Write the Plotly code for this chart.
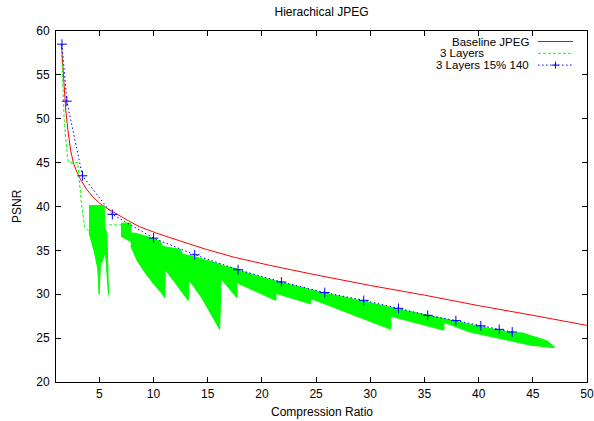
import plotly.graph_objects as go

# ---------------- data ----------------
baseline_x = [1.5, 1.6, 1.75, 1.9, 2.1, 2.35, 2.6, 2.9, 3.3, 3.8, 4.4, 5.0, 5.7, 6.5, 7.5, 8.7,
              10.2, 12.4, 14.9, 17.5, 20.7, 25.0, 30.0, 35.0, 40.0, 45.0, 50.0]
baseline_y = [58.5, 56.3, 53.5, 51.0, 48.7, 46.4, 45.0, 44.0, 43.0, 42.0, 41.1, 40.4, 39.8, 39.2, 38.5, 37.7,
              37.0, 36.1, 35.1, 34.2, 33.3, 32.2, 31.0, 29.9, 28.7, 27.6, 26.45]

layers3_line_x = [1.5, 1.6, 1.75, 1.95, 2.1, 2.2, 3.0, 3.35, 3.65, 4.05, None, 5.9, 7.0]
layers3_line_y = [58.5, 55.0, 50.0, 47.0, 45.3, 45.0, 45.0, 40.3, 37.6, 37.2, None, 37.9, 37.9]

# dense "3 Layers" region: top and bottom edges of each tooth of the band
layers3_teeth = [
    # (top_x, top_y, bottom_x, bottom_y)
    ([4.05, 5.45, 5.5, 5.7], [40.1, 40.1, 37.6, 37.0],
     [4.05, 4.2, 4.5, 4.85, 4.98, 5.1, 5.3, 5.55, 5.85], [37.0, 36.5, 35.0, 33.0, 30.0, 33.5, 33.8, 35.0, 29.9]),
    ([7.0, 7.9], [38.1, 38.1], [7.0, 7.9], [36.6, 36.0]),
    ([7.9, 8.5, 9.3, 10.0, 10.65], [37.0, 36.9, 36.6, 36.3, 36.0],
     [7.9, 8.5, 9.2, 10.0, 10.7, 11.05, 11.1], [35.5, 33.8, 32.5, 31.2, 30.2, 29.6, 34.5]),
    ([10.65, 12.5], [35.5, 35.1], [10.65, 12.0, 13.2, 13.3], [33.5, 31.3, 29.3, 32.5]),
    ([12.5, 14.0, 16.2], [34.6, 34.2, 33.4], [12.5, 14.5, 16.1, 16.2], [33.0, 29.5, 26.0, 30.0]),
    ([16.2, 17.7], [33.3, 32.9], [16.2, 17.7], [31.8, 29.6]),
    ([17.7, 19.5, 21.3], [32.8, 32.1, 31.5], [17.7, 19.5, 21.3], [31.3, 30.3, 29.3]),
    ([21.3, 23.5, 25.8, 27.5, 29.4, 31.9], [31.5, 30.8, 30.1, 29.7, 29.2, 28.5],
     [21.3, 24.5, 24.55, 31.9], [30.1, 28.9, 29.5, 26.0]),
    ([31.9, 33.5, 35.3, 36.8], [28.5, 28.1, 27.6, 27.2], [31.9, 36.8], [27.5, 25.9]),
    ([36.8, 37.9, 40.2, 41.9, 43.1, 44.0, 45.0, 46.3, 47.0], [27.2, 26.9, 26.3, 25.9, 25.6, 25.6, 25.2, 24.7, 24.0],
     [36.8, 39.2, 42.3, 44.8, 47.0], [26.8, 25.7, 24.9, 24.2, 23.9]),
]

layers15_x = [1.55, 2.0, 3.44, 6.2, 10.0, 13.8, 17.8, 21.8, 25.8, 29.4, 32.6, 35.3, 37.9, 40.2, 41.9, 43.1]
layers15_y = [58.5, 52.0, 43.5, 39.1, 36.4, 34.5, 32.8, 31.4, 30.2, 29.3, 28.4, 27.6, 27.0, 26.4, 26.0, 25.7]

x_ticks = [5, 10, 15, 20, 25, 30, 35, 40, 45, 50]
y_ticks = [20, 25, 30, 35, 40, 45, 50, 55, 60]

legend_names = ["Baseline JPEG", "3 Layers", "3 Layers 15% 140"]
chart_title = "Hierachical JPEG"
x_title = "Compression Ratio"
y_title = "PSNR"

# ---------------- figure ----------------
W, H = 594, 421
L, R, T, B = 56, 7, 31, 39
pw, ph = W - L - R, H - T - B
RED, GREEN, BLUE = "#ff0000", "#00ff00", "#0000ff"
FONT = "Liberation Sans, Arial, Helvetica, sans-serif"


def pxx(v):
    return (v - L) / pw


def pxy(v):
    return (H - B - v) / ph


fig = go.Figure()

fig.add_trace(go.Scatter(x=baseline_x, y=baseline_y, mode="lines",
                         line=dict(color=RED, width=1), name=legend_names[0], showlegend=False))

for tx, ty, bx, by in layers3_teeth:
    fig.add_trace(go.Scatter(x=tx + bx[::-1], y=ty + by[::-1], mode="lines", fill="toself",
                             fillcolor=GREEN, line=dict(color=GREEN, width=1),
                             showlegend=False, hoverinfo="skip"))

fig.add_trace(go.Scatter(x=layers3_line_x, y=layers3_line_y, mode="lines", connectgaps=False,
                         line=dict(color=GREEN, width=1, dash="3px,2px"), name=legend_names[1], showlegend=False))

fig.add_trace(go.Scatter(x=layers15_x, y=layers15_y, mode="lines+markers",
                         line=dict(color=BLUE, width=1, dash="1.5px,2.5px"),
                         marker=dict(symbol="cross-thin", size=7, line=dict(color=BLUE, width=1)),
                         name=legend_names[2], showlegend=False))

# custom gnuplot-style key (text, then sample on the right)
key_rows = [41.5, 53.3, 65.1]
KFS = 11.5
anns = []
shapes = []
for i, (name, yy) in enumerate(zip(legend_names, key_rows)):
    if i == 1:
        anns.append(dict(x=pxx(437.5), y=pxy(yy), xref="paper", yref="paper", text=name, showarrow=False,
                         xanchor="left", yanchor="middle", font=dict(size=KFS, color="black", family=FONT)))
    else:
        anns.append(dict(x=pxx(531), y=pxy(yy), xref="paper", yref="paper", text=name, showarrow=False,
                         xanchor="right", yanchor="middle", font=dict(size=KFS, color="black", family=FONT)))
sample_styles = [(RED, "solid"), (GREEN, "3px,2px"), (BLUE, "1.5px,2.5px")]
for (col, dash), yy in zip(sample_styles, key_rows):
    shapes.append(dict(type="line", xref="paper", yref="paper", x0=pxx(538), x1=pxx(573),
                       y0=pxy(yy), y1=pxy(yy), line=dict(color=col, width=1, dash=dash)))
cx, cy = 555.5, key_rows[2]
shapes.append(dict(type="line", xref="paper", yref="paper", x0=pxx(cx - 3.5), x1=pxx(cx + 3.5),
                   y0=pxy(cy), y1=pxy(cy), line=dict(color=BLUE, width=1)))
shapes.append(dict(type="line", xref="paper", yref="paper", x0=pxx(cx), x1=pxx(cx),
                   y0=pxy(cy - 3.5), y1=pxy(cy + 3.5), line=dict(color=BLUE, width=1)))

# axis titles
anns.append(dict(x=pxx(321.5), y=pxy(411.5), xref="paper", yref="paper", text=x_title, showarrow=False,
                 xanchor="center", yanchor="middle", font=dict(size=12, color="black", family=FONT)))
anns.append(dict(x=pxx(17), y=pxy(206), xref="paper", yref="paper", text=y_title, showarrow=False,
                 textangle=-90, xanchor="center", yanchor="middle", font=dict(size=12, color="black", family=FONT)))

axis_common = dict(showgrid=False, zeroline=False, showline=True, linecolor="black", linewidth=1,
                   mirror="allticks", ticks="inside", ticklen=5, tickwidth=1, tickcolor="black",
                   automargin=False, tickfont=dict(size=12, color="black", family=FONT))

fig.update_layout(
    width=W, height=H,
    margin=dict(l=L, r=R, t=T, b=B, pad=0, autoexpand=False),
    paper_bgcolor="white", plot_bgcolor="white",
    font=dict(family=FONT, size=12, color="black"),
    title=dict(text=chart_title, x=0.5, xref="paper", xanchor="center",
               y=1 - 12 / H, yref="container", yanchor="middle", font=dict(size=12, family=FONT)),
    xaxis=dict(range=[1, 50], tickvals=x_ticks, ticktext=[str(v) for v in x_ticks],
               ticklabelstandoff=1, **axis_common),
    yaxis=dict(range=[20, 60], tickvals=y_ticks, ticktext=[str(v) for v in y_ticks],
               ticklabelstandoff=3, **axis_common),
    annotations=anns, shapes=shapes, showlegend=False,
)

fig.write_html("out.html", config={"displayModeBar": False},
               post_script="document.body.style.margin='0px';document.body.style.overflow='hidden';")
